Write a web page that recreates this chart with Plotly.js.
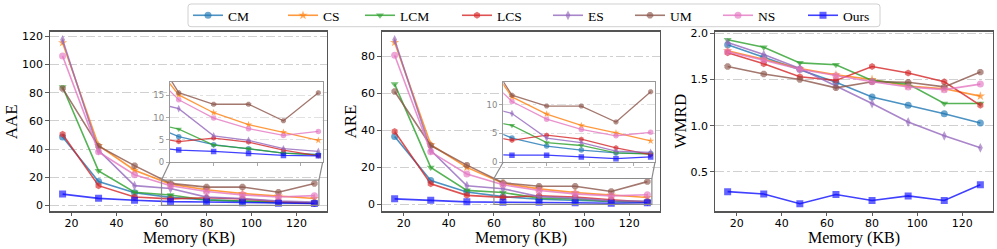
<!DOCTYPE html>
<html>
<head>
<meta charset="utf-8">
<script src="https://cdn.plot.ly/plotly-3.0.1.min.js"></script>
<style>html,body{margin:0;padding:0;background:#fff;}#chart{width:997px;height:249px;}</style>
</head>
<body>
<div id="chart"></div>
<script>
// ---------- data ----------
const memory = [16, 32, 48, 64, 80, 96, 112, 128];
const seriesNames = ["CM", "CS", "LCM", "LCS", "ES", "UM", "NS", "Ours"];

const aaeCM   = [48.5, 17.0, 9.0, 5.7, 3.9, 3.0, 2.0, 1.7];
const aaeCS   = [115.5, 42.5, 25.0, 15.1, 11.1, 8.4, 6.7, 4.9];
const aaeLCM  = [84.0, 24.5, 9.3, 7.4, 3.8, 3.0, 2.0, 1.6];
const aaeLCS  = [50.5, 14.0, 6.0, 4.6, 5.4, 4.5, 2.7, 1.4];
const aaeES   = [117.5, 39.0, 14.0, 12.0, 5.9, 4.9, 3.0, 2.4];
const aaeUM   = [83.0, 42.0, 28.2, 15.6, 13.0, 13.0, 9.3, 15.6];
const aaeNS   = [106.0, 38.0, 21.8, 14.0, 9.9, 7.5, 6.0, 6.9];
const aaeOurs = [8.0, 5.0, 3.6, 2.7, 2.4, 1.9, 1.5, 1.4];

const areCM   = [36.7, 12.9, 6.7, 4.2, 2.8, 2.1, 1.6, 1.5];
const areCS   = [87.5, 32.3, 20.0, 11.4, 8.4, 6.4, 5.1, 3.7];
const areLCM  = [65.0, 20.0, 7.6, 6.4, 3.4, 2.9, 1.6, 1.4];
const areLCS  = [39.4, 11.1, 4.9, 3.8, 4.7, 4.0, 2.5, 1.3];
const areES   = [88.9, 29.2, 10.1, 8.5, 4.2, 3.4, 1.9, 1.7];
const areUM   = [61.0, 31.8, 21.2, 11.7, 9.8, 9.8, 7.0, 12.3];
const areNS   = [80.6, 28.4, 16.4, 10.6, 7.5, 5.7, 4.6, 5.2];
const areOurs = [3.0, 2.3, 1.4, 1.2, 1.2, 0.9, 0.6, 0.9];

const wmrdCM   = [1.875, 1.74, 1.61, 1.47, 1.31, 1.22, 1.13, 1.03];
const wmrdCS   = [1.81, 1.72, 1.62, 1.55, 1.50, 1.43, 1.40, 1.32];
const wmrdLCM  = [1.93, 1.85, 1.68, 1.66, 1.49, 1.45, 1.24, 1.24];
const wmrdLCS  = [1.79, 1.67, 1.53, 1.49, 1.64, 1.57, 1.475, 1.22];
const wmrdES   = [1.90, 1.77, 1.62, 1.43, 1.24, 1.04, 0.89, 0.76];
const wmrdUM   = [1.64, 1.56, 1.50, 1.41, 1.475, 1.47, 1.42, 1.58];
const wmrdNS   = [1.80, 1.71, 1.61, 1.54, 1.475, 1.42, 1.39, 1.45];
const wmrdOurs = [0.286, 0.26, 0.155, 0.255, 0.19, 0.24, 0.19, 0.36];

const xTicks = [20, 40, 60, 80, 100, 120];
const aaeTicks = [0, 20, 40, 60, 80, 100, 120];
const areTicks = [0, 20, 40, 60, 80];
const wmrdTicks = [0.5, 1.0, 1.5, 2.0];
const wmrdTickText = ["0.5", "1.0", "1.5", "2.0"];
const inset1Ticks = [0, 5, 10, 15];
const inset2Ticks = [0, 5, 10];
const insetXTicks = [80, 100, 120];

// ---------- styles ----------
const colors = ["#1f77b4", "#ff7f0e", "#2ca02c", "#d62728", "#9467bd", "#8c564b", "#e377c2", "#1010ff"];
const symbols = ["circle", "star", "triangle-down", "hexagon", "diamond-tall", "octagon", "circle", "square"];
// left pixel of each legend entry's line sample
const legendItemX = [193, 288, 365, 462, 553, 635, 723, 808];

const aae = [aaeCM, aaeCS, aaeLCM, aaeLCS, aaeES, aaeUM, aaeNS, aaeOurs];
const are = [areCM, areCS, areLCM, areLCS, areES, areUM, areNS, areOurs];
const wmrd = [wmrdCM, wmrdCS, wmrdLCM, wmrdLCS, wmrdES, wmrdUM, wmrdNS, wmrdOurs];

const W = 997, H = 249;
const fx = p => p / W;
const fy = p => (H - p) / H;

const dom1 = [fx(50), fx(327)];
const dom2 = [fx(382), fx(660)];
const dom3 = [fx(715), fx(993)];
const domY = [fy(211), fy(29)];
const domIn1 = [fx(170), fx(322.7)];
const domIn2 = [fx(503.3), fx(655)];
const domInY = [fy(161), fy(80)];

const xRange = [10.4, 133.6];
const r1 = [-4.3, 123.3], r2 = [-3.8, 93.3], r3 = [0.0715, 2.018];
const inXR = [60, 130], in1YR = [0, 18], in2YR = [0, 14];

function hexA(h, a) {
  const n = parseInt(h.slice(1), 16);
  return `rgba(${(n >> 16) & 255},${(n >> 8) & 255},${n & 255},${a})`;
}
const legendId = i => (i === 0 ? "legend" : "legend" + (i + 1));

const traces = [];
function addSet(data, xa, ya, legend, msize, lw) {
  data.forEach((vals, i) => {
    traces.push({
      x: memory, y: vals, type: "scatter", mode: "lines+markers",
      name: seriesNames[i], xaxis: xa, yaxis: ya, showlegend: legend,
      legend: legendId(i),
      line: {color: hexA(colors[i], 0.8), width: lw},
      marker: {symbol: symbols[i], size: msize, color: hexA(colors[i], 0.65),
               line: {width: 0}},
      cliponaxis: true
    });
  });
}
addSet(aae, "x", "y", true, 7, 1.6);
addSet(are, "x2", "y2", false, 7, 1.6);
addSet(wmrd, "x3", "y3", false, 7, 1.6);
addSet(aae, "x4", "y4", false, 5.5, 1.3);
addSet(are, "x5", "y5", false, 5.5, 1.3);

const tickFont = {family: "DejaVu Sans", size: 11, color: "#000"};
const inTickFont = {family: "DejaVu Sans", size: 8.5, color: "#888"};
function mainX(dom, anchor) {
  return {domain: dom, anchor: anchor, range: xRange, tickmode: "array", tickvals: xTicks,
    ticks: "outside", ticklen: 3.5, tickwidth: 0.8, tickcolor: "#333", ticklabelstandoff: -2,
    showline: true, mirror: true, linecolor: "#555", linewidth: 1.2,
    showgrid: false, zeroline: false, tickfont: tickFont};
}
function mainY(dom, anchor, range, tv, tt) {
  const o = {domain: dom, anchor: anchor, range: range, tickmode: "array", tickvals: tv,
    ticks: "outside", ticklen: 3.5, tickwidth: 0.8, tickcolor: "#333",
    showline: true, mirror: true, linecolor: "#555", linewidth: 1.2,
    showgrid: true, gridcolor: "#c4c4c4", gridwidth: 0.8, griddash: "dashdot",
    zeroline: false, tickfont: tickFont};
  if (tt) o.ticktext = tt;
  return o;
}
function inX(dom, anchor) {
  return {domain: dom, anchor: anchor, range: inXR, tickmode: "array", tickvals: insetXTicks,
    ticks: "outside", ticklen: 3, tickwidth: 0.7, tickcolor: "#888", showticklabels: false,
    showline: true, mirror: true, linecolor: "#999", linewidth: 1.2,
    showgrid: false, zeroline: false};
}
function inY(dom, anchor, range, tv) {
  return {domain: dom, anchor: anchor, range: range, tickmode: "array", tickvals: tv,
    ticks: "outside", ticklen: 3, tickwidth: 0.7, tickcolor: "#888",
    showline: true, mirror: true, linecolor: "#999", linewidth: 1.2,
    showgrid: true, gridcolor: "#d4d4d4", gridwidth: 0.7, griddash: "dashdot",
    zeroline: false, tickfont: inTickFont};
}

// data -> paper helpers for the zoom connectors
function toPaper(dom, range, v) {
  return dom[0] + (v - range[0]) / (range[1] - range[0]) * (dom[1] - dom[0]);
}
function zoomShapes(dom, yR, inDom, inYR) {
  const rx0 = toPaper(dom, xRange, inXR[0]), rx1 = toPaper(dom, xRange, inXR[1]);
  const ry0 = toPaper(domY, yR, inYR[0]), ry1 = toPaper(domY, yR, inYR[1]);
  const st = {color: "#8a8a8a", width: 1.2};
  return [
    {type: "rect", xref: "paper", yref: "paper", x0: rx0, x1: rx1, y0: ry0, y1: ry1, line: st, layer: "above"},
    {type: "line", xref: "paper", yref: "paper", x0: rx0, y0: ry1, x1: inDom[0], y1: domInY[0], line: st, layer: "above"},
    {type: "line", xref: "paper", yref: "paper", x0: rx1, y0: ry1, x1: inDom[1], y1: domInY[0], line: st, layer: "above"}
  ];
}
// rounded legend frame
function roundedBox(x0p, y0p, x1p, y1p, r) {
  const X = p => fx(p), Y = p => fy(p);
  const d = `M ${X(x0p + r)} ${Y(y0p)} L ${X(x1p - r)} ${Y(y0p)} Q ${X(x1p)} ${Y(y0p)} ${X(x1p)} ${Y(y0p + r)} ` +
    `L ${X(x1p)} ${Y(y1p - r)} Q ${X(x1p)} ${Y(y1p)} ${X(x1p - r)} ${Y(y1p)} L ${X(x0p + r)} ${Y(y1p)} ` +
    `Q ${X(x0p)} ${Y(y1p)} ${X(x0p)} ${Y(y1p - r)} L ${X(x0p)} ${Y(y0p + r)} Q ${X(x0p)} ${Y(y0p)} ${X(x0p + r)} ${Y(y0p)} Z`;
  return {type: "path", xref: "paper", yref: "paper", path: d, fillcolor: "#fff",
    line: {color: "#d0d0d0", width: 1}, layer: "below"};
}

const serif = "Liberation Serif, Times New Roman, serif";
function xTitle(dom) {
  return {text: "Memory (KB)", xref: "paper", yref: "paper", x: (dom[0] + dom[1]) / 2, y: fy(238),
    xanchor: "center", yanchor: "middle", showarrow: false, font: {family: serif, size: 16, color: "#000"}};
}
function yTitle(txt, px) {
  return {text: txt, xref: "paper", yref: "paper", x: fx(px), y: (domY[0] + domY[1]) / 2, textangle: -90,
    xanchor: "center", yanchor: "middle", showarrow: false, font: {family: serif, size: 17, color: "#000"}};
}

const layout = {
  width: W, height: H,
  margin: {l: 0, r: 0, t: 0, b: 0, pad: 0},
  paper_bgcolor: "#fff", plot_bgcolor: "#fff",
  showlegend: true,
  xaxis: mainX(dom1, "y"), yaxis: mainY(domY, "x", r1, aaeTicks),
  xaxis2: mainX(dom2, "y2"), yaxis2: mainY(domY, "x2", r2, areTicks),
  xaxis3: mainX(dom3, "y3"), yaxis3: mainY(domY, "x3", r3, wmrdTicks, wmrdTickText),
  xaxis4: inX(domIn1, "y4"), yaxis4: inY(domInY, "x4", in1YR, inset1Ticks),
  xaxis5: inX(domIn2, "y5"), yaxis5: inY(domInY, "x5", in2YR, inset2Ticks),
  shapes: [roundedBox(188, 1, 880, 24, 3)].concat(
    zoomShapes(dom1, r1, domIn1, in1YR), zoomShapes(dom2, r2, domIn2, in2YR)),
  annotations: [xTitle(dom1), xTitle(dom2), xTitle(dom3),
    yTitle("AAE", 11.7), yTitle("ARE", 351), yTitle("WMRD", 681)]
};
legendItemX.forEach((px, i) => {
  layout[legendId(i)] = {orientation: "h", x: fx(px - 5), xanchor: "left", y: fy(12.5), yanchor: "middle",
    borderwidth: 0, bgcolor: "rgba(0,0,0,0)",
    font: {family: serif, size: 13.5, color: "#000"}};
});

Plotly.newPlot("chart", traces, layout, {staticPlot: true, displayModeBar: false});
</script>
</body>
</html>
